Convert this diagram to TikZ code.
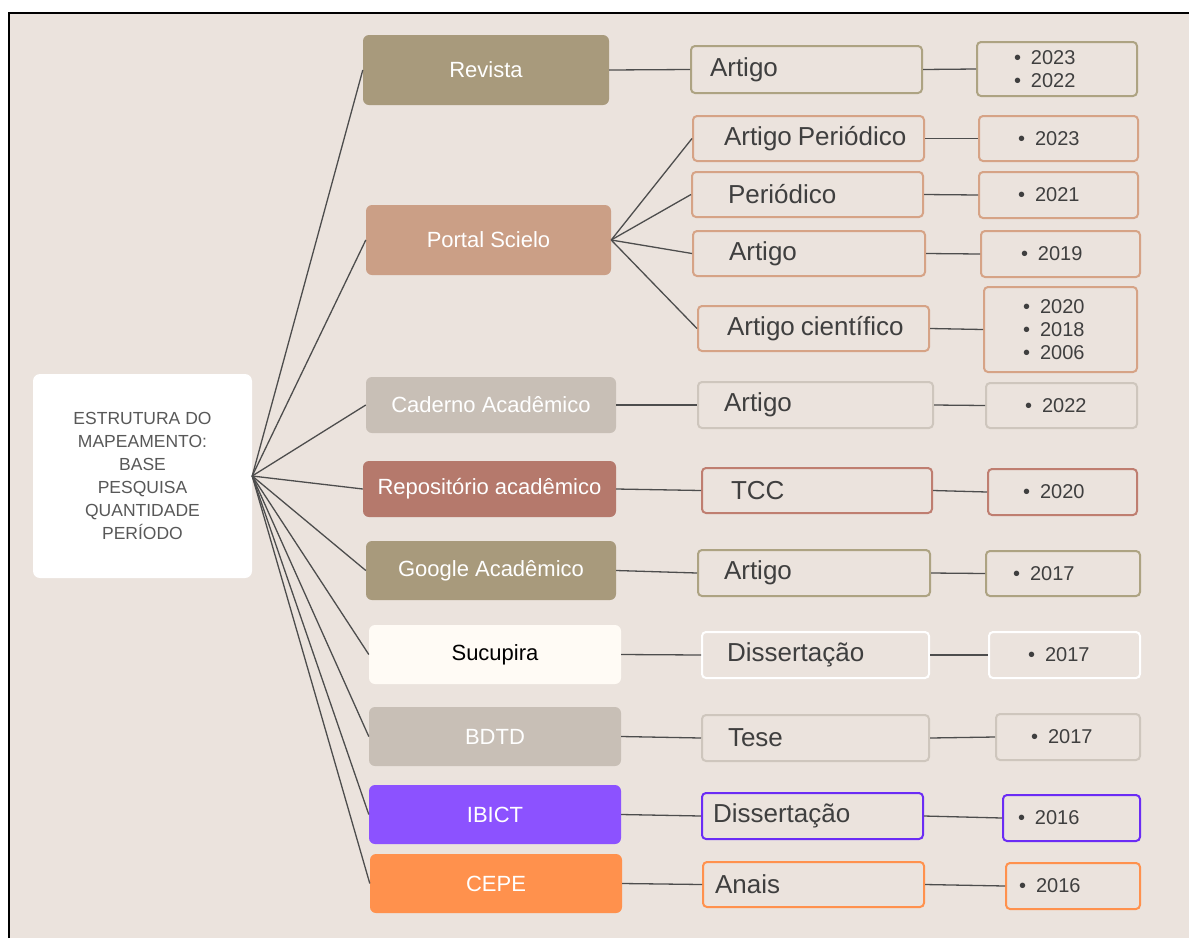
\documentclass[tikz,border=0pt]{standalone}
\usepackage{fontspec}
\setmainfont{Liberation Sans}
\usetikzlibrary{positioning}

\definecolor{fundo}{HTML}{EBE3DD}
\definecolor{linha}{HTML}{4D4D4D}
\definecolor{texto}{HTML}{3F3F3F}
\definecolor{textoraiz}{HTML}{585858}
\definecolor{caqui}{HTML}{A89A7C}
\definecolor{bordacaqui}{HTML}{ADA382}
\definecolor{salmao}{HTML}{CB9F86}
\definecolor{bordasalmao}{HTML}{D6A386}
\definecolor{areia}{HTML}{C8BFB6}
\definecolor{bordaareia}{HTML}{CEC6BD}
\definecolor{terra}{HTML}{B5796C}
\definecolor{bordaterra}{HTML}{BF7E70}
\definecolor{creme}{HTML}{FFFBF5}
\definecolor{lilas}{HTML}{8C52FF}
\definecolor{bordalilas}{HTML}{6B2CF5}
\definecolor{laranja}{HTML}{FF914D}

\newcommand{\ano}[1]{•\hspace{10pt}#1}

\begin{document}
\begin{tikzpicture}[
    x=1pt, y=-1pt,
    raiz/.style={fill=white, rounded corners=7pt, minimum width=219pt, minimum height=204pt,
        align=center, text=textoraiz, font=\fontsize{17.5}{23}\selectfont},
    base/.style={rounded corners=6pt, text=white, inner sep=0pt, font=\fontsize{22}{26}\selectfont},
    tipo/.style={draw, fill=fundo, rounded corners=4pt, line width=2pt, inner xsep=0pt,
        align=left, text=texto, font=\fontsize{26}{30}\selectfont},
    periodo/.style={draw, fill=fundo, rounded corners=4pt, line width=2pt, inner xsep=0pt,
        align=left, text=texto, font=\fontsize{20}{23}\selectfont},
    ligacao/.style={line width=1.3pt, draw=linha}
]

\useasboundingbox (0,0) rectangle (1189,938);

% moldura
\fill[white] (0,0) rectangle (1189,938);
\fill[fundo] (9,13) rectangle (1189,938);
\draw[line width=2pt] (9,938) -- (9,13) -- (1189,13);

% === NODES ===

% Raiz
\node[raiz] (raiz) at (142.5,476) {ESTRUTURA DO\\MAPEAMENTO:\\BASE\\PESQUISA\\QUANTIDADE\\PERÍODO};

% Bases
\node[base, fill=caqui, minimum width=246pt, minimum height=70pt] (revista) at (486,70) {Revista};
\node[base, fill=salmao, minimum width=245pt, minimum height=70pt] (scielo) at (488.5,240) {Portal Scielo};
\node[base, fill=areia, minimum width=250pt, minimum height=56pt] (caderno) at (491,405) {Caderno Acadêmico};
\node[base, fill=terra, minimum width=253pt, minimum height=56pt] (repositorio) at (489.5,489) {Repositório acadêmico};
\node[base, fill=caqui, minimum width=250pt, minimum height=59pt] (google) at (491,570.5) {Google Acadêmico};
\node[base, fill=creme, text=black, minimum width=252pt, minimum height=59pt] (sucupira) at (495,654.5) {Sucupira};
\node[base, fill=areia, minimum width=252pt, minimum height=59pt] (bdtd) at (495,736.5) {BDTD};
\node[base, fill=lilas, minimum width=252pt, minimum height=59pt] (ibict) at (495,814.5) {IBICT};
\node[base, fill=laranja, minimum width=252pt, minimum height=59pt] (cepe) at (496,883.5) {CEPE};

% Tipos de pesquisa
\node[tipo, draw=bordacaqui, text width=231pt, minimum height=47pt] (revArt) at (806.5,69.5) {\hspace*{19pt}Artigo};
\node[tipo, draw=bordasalmao, text width=231pt, minimum height=45pt] (sciArtPer) at (808.5,138.5) {\hspace*{31pt}Artigo\hspace{6pt}Periódico};
\node[tipo, draw=bordasalmao, text width=231pt, minimum height=45pt] (sciPer) at (807.5,194.5) {\hspace*{36pt}Periódico};
\node[tipo, draw=bordasalmao, text width=232pt, minimum height=45pt] (sciArt) at (809,253.5) {\hspace*{36pt}Artigo};
\node[tipo, draw=bordasalmao, text width=231pt, minimum height=45pt] (sciArtCie) at (813.5,328.5) {\hspace*{29pt}Artigo\hspace{6pt}científico};
\node[tipo, draw=bordaareia, text width=235pt, minimum height=46pt] (cadArt) at (815.5,405) {\hspace*{26pt}Artigo};
\node[tipo, draw=bordaterra, text width=230pt, minimum height=45pt] (repTcc) at (817,490.5) {\hspace*{29pt}TCC};
\node[tipo, draw=bordacaqui, text width=232pt, minimum height=46pt] (gooArt) at (814,573) {\hspace*{26pt}Artigo};
\node[tipo, draw=white, text width=227pt, minimum height=46pt] (sucDis) at (815.5,655) {\hspace*{25pt}Dissertação};
\node[tipo, draw=bordaareia, text width=227pt, minimum height=46pt] (bdtTese) at (815.5,738) {\hspace*{26pt}Tese};
\node[tipo, draw=bordalilas, text width=221pt, minimum height=46pt] (ibiDis) at (812.5,816) {\hspace*{11pt}Dissertação};
\node[tipo, draw=laranja, text width=221pt, minimum height=45pt] (cepAnais) at (813.5,884.5) {\hspace*{12pt}Anais};

% Periodos
\node[periodo, draw=bordacaqui, text width=160pt, minimum height=54pt] (revAno) at (1057,69) {\hspace*{37pt}\ano{2023}\\\hspace*{37pt}\ano{2022}};
\node[periodo, draw=bordasalmao, text width=159pt, minimum height=45pt] (sciAnoA) at (1058.5,138.5) {\hspace*{39pt}\ano{2023}};
\node[periodo, draw=bordasalmao, text width=159pt, minimum height=46pt] (sciAnoB) at (1058.5,195) {\hspace*{39pt}\ano{2021}};
\node[periodo, draw=bordasalmao, text width=159pt, minimum height=46pt] (sciAnoC) at (1060.5,254) {\hspace*{40pt}\ano{2019}};
\node[periodo, draw=bordasalmao, text width=153pt, minimum height=85pt] (sciAnoD) at (1060.5,329.5) {\hspace*{39pt}\ano{2020}\\\hspace*{39pt}\ano{2018}\\\hspace*{39pt}\ano{2006}};
\node[periodo, draw=bordaareia, text width=151pt, minimum height=45pt] (cadAno) at (1061.5,405.5) {\hspace*{39pt}\ano{2022}};
\node[periodo, draw=bordaterra, text width=149pt, minimum height=46pt] (repAno) at (1062.5,492) {\hspace*{35pt}\ano{2020}};
\node[periodo, draw=bordacaqui, text width=154pt, minimum height=45pt] (gooAno) at (1063,573.5) {\hspace*{27pt}\ano{2017}};
\node[periodo, draw=white, text width=151pt, minimum height=46pt] (sucAno) at (1064.5,655) {\hspace*{39pt}\ano{2017}};
\node[periodo, draw=bordaareia, text width=144pt, minimum height=46pt] (bdtAno) at (1068,737) {\hspace*{35pt}\ano{2017}};
\node[periodo, draw=bordalilas, text width=137pt, minimum height=46pt] (ibiAno) at (1071.5,818) {\hspace*{15pt}\ano{2016}};
\node[periodo, draw=laranja, text width=134pt, minimum height=46pt] (cepAno) at (1073,886) {\hspace*{13pt}\ano{2016}};

% === RAIZ -> BASES ===
\draw[ligacao] (raiz.east) -- (revista.west);
\draw[ligacao] (raiz.east) -- (scielo.west);
\draw[ligacao] (raiz.east) -- (caderno.west);
\draw[ligacao] (raiz.east) -- (repositorio.west);
\draw[ligacao] (raiz.east) -- (google.west);
\draw[ligacao] (raiz.east) -- (sucupira.west);
\draw[ligacao] (raiz.east) -- (bdtd.west);
\draw[ligacao] (raiz.east) -- (ibict.west);
\draw[ligacao] (raiz.east) -- (cepe.west);

% === BASES -> TIPOS ===
\draw[ligacao] (revista.east) -- (revArt.west);
\draw[ligacao] (scielo.east) -- (sciArtPer.west);
\draw[ligacao] (scielo.east) -- (sciPer.west);
\draw[ligacao] (scielo.east) -- (sciArt.west);
\draw[ligacao] (scielo.east) -- (sciArtCie.west);
\draw[ligacao] (caderno.east) -- (cadArt.west);
\draw[ligacao] (repositorio.east) -- (repTcc.west);
\draw[ligacao] (google.east) -- (gooArt.west);
\draw[ligacao] (sucupira.east) -- (sucDis.west);
\draw[ligacao] (bdtd.east) -- (bdtTese.west);
\draw[ligacao] (ibict.east) -- (ibiDis.west);
\draw[ligacao] (cepe.east) -- (cepAnais.west);

% === TIPOS -> PERIODOS ===
\draw[ligacao] (revArt.east) -- (revAno.west);
\draw[ligacao] (sciArtPer.east) -- (sciAnoA.west);
\draw[ligacao] (sciPer.east) -- (sciAnoB.west);
\draw[ligacao] (sciArt.east) -- (sciAnoC.west);
\draw[ligacao] (sciArtCie.east) -- (sciAnoD.west);
\draw[ligacao] (cadArt.east) -- (cadAno.west);
\draw[ligacao] (repTcc.east) -- (repAno.west);
\draw[ligacao] (gooArt.east) -- (gooAno.west);
\draw[ligacao] (sucDis.east) -- (sucAno.west);
\draw[ligacao] (bdtTese.east) -- (bdtAno.west);
\draw[ligacao] (ibiDis.east) -- (ibiAno.west);
\draw[ligacao] (cepAnais.east) -- (cepAno.west);

\end{tikzpicture}
\end{document}
